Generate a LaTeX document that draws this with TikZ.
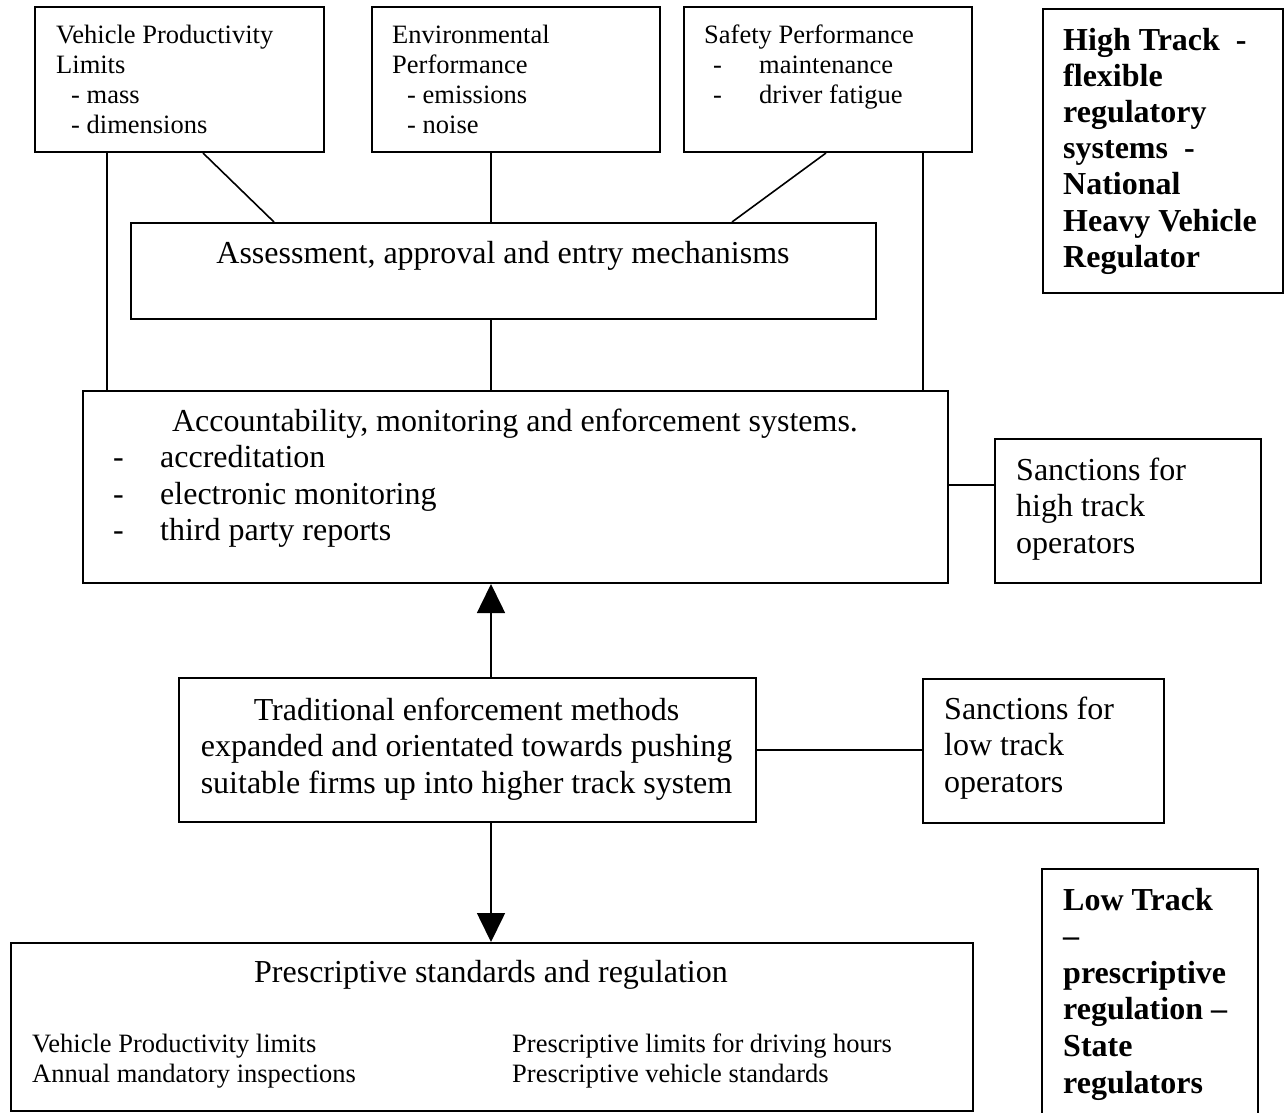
\documentclass[tikz,border=0pt]{standalone}
\usepackage{fontspec}
\setmainfont{Liberation Serif}
\usetikzlibrary{arrows.meta,calc}
\newcommand\bigtxt{\fontsize{32}{36.7}\selectfont}
\newcommand\smtxt{\fontsize{26.5}{30.3}\selectfont}
\tikzset{
  box/.style={draw, line width=2pt, inner sep=0pt, anchor=north west},
  lbl/.style={anchor=base west, inner sep=0pt, font=\smtxt},
  blbl/.style={anchor=base west, inner sep=0pt, font=\bigtxt},
  clbl/.style={anchor=base, inner sep=0pt, font=\bigtxt},
  bold/.style={anchor=base west, inner sep=0pt, font=\bigtxt\bfseries},
  conn/.style={line width=1.6pt},
  arr/.style={line width=1.6pt, -{Triangle[width=28pt,length=29pt]}}
}
\begin{document}
\begin{tikzpicture}[x=1pt,y=-1pt]
\useasboundingbox (0,0) rectangle (1287,1112);
\fill[white] (0,0) rectangle (1287,1112);
\clip (0,0) rectangle (1287,1112);

% boxes
\node[box, minimum width=289pt, minimum height=145pt] (vpl) at (34,6) {};
\node[box, minimum width=288pt, minimum height=145pt] (env) at (371,6) {};
\node[box, minimum width=288pt, minimum height=145pt] (saf) at (683,6) {};
\node[box, minimum width=240pt, minimum height=284pt] (high) at (1042,8) {};
\node[box, minimum width=745pt, minimum height=96pt] (assess) at (130,222) {};
\node[box, minimum width=865pt, minimum height=192pt] (acc) at (82,390) {};
\node[box, minimum width=266pt, minimum height=144pt] (sh) at (994,438) {};
\node[box, minimum width=577pt, minimum height=144pt] (trad) at (178,677) {};
\node[box, minimum width=241pt, minimum height=144pt] (sl) at (922,678) {};
\node[box, minimum width=962pt, minimum height=168pt] (pres) at (10,942) {};
\node[inner sep=0pt, anchor=north west, minimum width=216pt, minimum height=260pt] (low) at (1042,869) {};
\draw[line width=2pt] (low.south west) -- (low.north west) -- (low.north east) -- (low.south east);

% texts: top boxes
\node[lbl] (t1) at (56,43) {Vehicle Productivity};
\node[lbl] (t2) at (56,73) {Limits};
\node[lbl] (t3) at (71,103) {- mass};
\node[lbl] (t4) at (71,133) {- dimensions};
\node[lbl] (t5) at (392,43) {Environmental};
\node[lbl] (t6) at (392,73) {Performance};
\node[lbl] (t7) at (407,103) {- emissions};
\node[lbl] (t8) at (407,133) {- noise};
\node[lbl] (t9) at (704,43) {Safety Performance};
\node[lbl] (t10) at (713,73) {-};
\node[lbl] (t11) at (759,73) {maintenance};
\node[lbl] (t12) at (713,103) {-};
\node[lbl] (t13) at (759,103) {driver fatigue};

% high track
\node[bold] (h1) at (1063,50) {High Track\ \ -};
\node[bold] (h2) at (1063,86.2) {flexible};
\node[bold] (h3) at (1063,122.4) {regulatory};
\node[bold] (h4) at (1063,158.6) {systems\ \ -};
\node[bold] (h5) at (1063,194.8) {National};
\node[bold] (h6) at (1063,231) {Heavy Vehicle};
\node[bold] (h7) at (1063,267.2) {Regulator};

% assessment
\node[clbl] (a1) at (503,263) {Assessment, approval and entry mechanisms};

% accountability
\node[clbl] (c1) at (515,431) {Accountability, monitoring and enforcement systems.};
\node[blbl] (c2) at (113,467.5) {-};
\node[blbl] (c3) at (160,467.5) {accreditation};
\node[blbl] (c4) at (113,504) {-};
\node[blbl] (c5) at (160,504) {electronic monitoring};
\node[blbl] (c6) at (113,540.5) {-};
\node[blbl] (c7) at (160,540.5) {third party reports};

% sanctions high
\node[blbl] (s1) at (1016,480) {Sanctions for};
\node[blbl] (s2) at (1016,516.5) {high track};
\node[blbl] (s3) at (1016,553) {operators};

% traditional
\node[clbl] (r1) at (466.5,720) {Traditional enforcement methods};
\node[clbl] (r2) at (466.5,756.5) {expanded and orientated towards pushing};
\node[clbl] (r3) at (466.5,793) {suitable firms up into higher track system};

% sanctions low
\node[blbl] (l1) at (944,719) {Sanctions for};
\node[blbl] (l2) at (944,755.5) {low track};
\node[blbl] (l3) at (944,792) {operators};

% prescriptive
\node[clbl] (p1) at (491,982) {Prescriptive standards and regulation};
\node[lbl] (p2) at (32,1052) {Vehicle Productivity limits};
\node[lbl] (p3) at (32,1082) {Annual mandatory inspections};
\node[lbl] (p4) at (512,1052) {Prescriptive limits for driving hours};
\node[lbl] (p5) at (512,1082) {Prescriptive vehicle standards};

% low track
\node[bold] (w1) at (1063,910) {Low Track};
\node[bold] (w2) at (1063,946.6) {–};
\node[bold] (w3) at (1063,983.2) {prescriptive};
\node[bold] (w4) at (1063,1019.8) {regulation –};
\node[bold] (w5) at (1063,1056.4) {State};
\node[bold] (w6) at (1063,1093) {regulators};

% connector guides
\coordinate (xl) at (107,0);
\coordinate (xm) at (491,0);
\coordinate (xr) at (923,0);
\coordinate (da) at (203,0);
\coordinate (db) at (274,0);
\coordinate (dc) at (826,0);
\coordinate (dd) at (732,0);
\coordinate (yh) at (0,485);

% connectors
\draw[conn] (vpl.south -| xl) -- (acc.north -| xl);
\draw[conn] (saf.south -| xr) -- (acc.north -| xr);
\draw[conn] (vpl.south -| da) -- (assess.north -| db);
\draw[conn] (saf.south -| dc) -- (assess.north -| dd);
\draw[conn] (env.south -| xm) -- (assess.north -| xm);
\draw[conn] (assess.south -| xm) -- (acc.north -| xm);
\draw[conn] (acc.east |- yh) -- (sh.west |- yh);
\draw[conn] (trad.east) -- (sl.west |- trad.east);
\draw[arr] (trad.north -| xm) -- (acc.south -| xm);
\draw[arr] (trad.south -| xm) -- (pres.north -| xm);
\end{tikzpicture}
\end{document}
